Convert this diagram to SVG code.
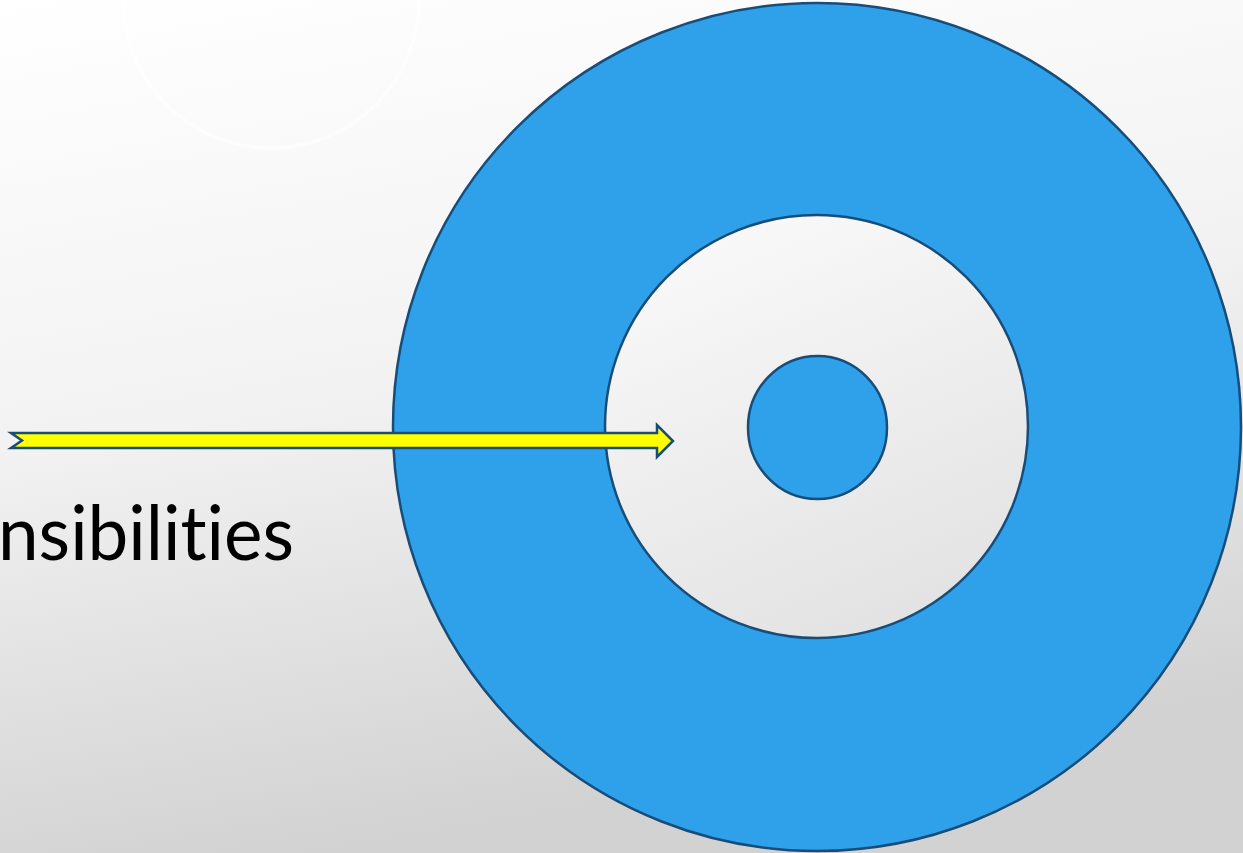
<svg xmlns="http://www.w3.org/2000/svg" width="1243" height="853" viewBox="0 0 1243 853">
<defs>
<linearGradient id="bg" x1="0" y1="0" x2="0.25" y2="1">
<stop offset="0" stop-color="#ffffff"/>
<stop offset="0.5" stop-color="#f2f2f2"/>
<stop offset="1" stop-color="#d2d2d2"/>
</linearGradient>
<linearGradient id="mid" x1="0.3" y1="0" x2="0.7" y2="1">
<stop offset="0" stop-color="#f9f9f9"/>
<stop offset="1" stop-color="#e2e2e2"/>
</linearGradient>
<style>
.blue{fill:#2fa1eb;stroke:#174d78;stroke-width:2.5}
.ring{fill:url(#mid);stroke:#174d78;stroke-width:2.5}
.arrow{fill:#ffff00;stroke:#174d78;stroke-width:2.5;stroke-linejoin:miter}
.lbl{font-family:"Lato","Liberation Sans",sans-serif;font-size:76px;fill:#000;font-variant-ligatures:none;font-feature-settings:"liga" 0,"clig" 0}
</style>
</defs>
<rect width="1243" height="853" fill="url(#bg)"/>
<circle cx="271" cy="0" r="148" fill="none" stroke="#ffffff" stroke-width="4" opacity="0.5"/>
<g id="outer"><circle class="blue" cx="817" cy="427" r="424"/></g>
<g id="middle"><circle class="ring" cx="816.5" cy="426.5" r="211.5"/></g>
<g id="inner"><ellipse class="blue" cx="817.5" cy="427.5" rx="69.5" ry="71.5"/></g>
<g id="label"><text class="lbl" x="-2" y="560" textLength="296" lengthAdjust="spacingAndGlyphs">nsibilities</text></g>
<g id="connectors">
<path class="arrow" d="M11,433 L657,433 L657,425 L673,441 L657,457 L657,448 L11,448 L22,440.5 Z"/>
</g>
</svg>
